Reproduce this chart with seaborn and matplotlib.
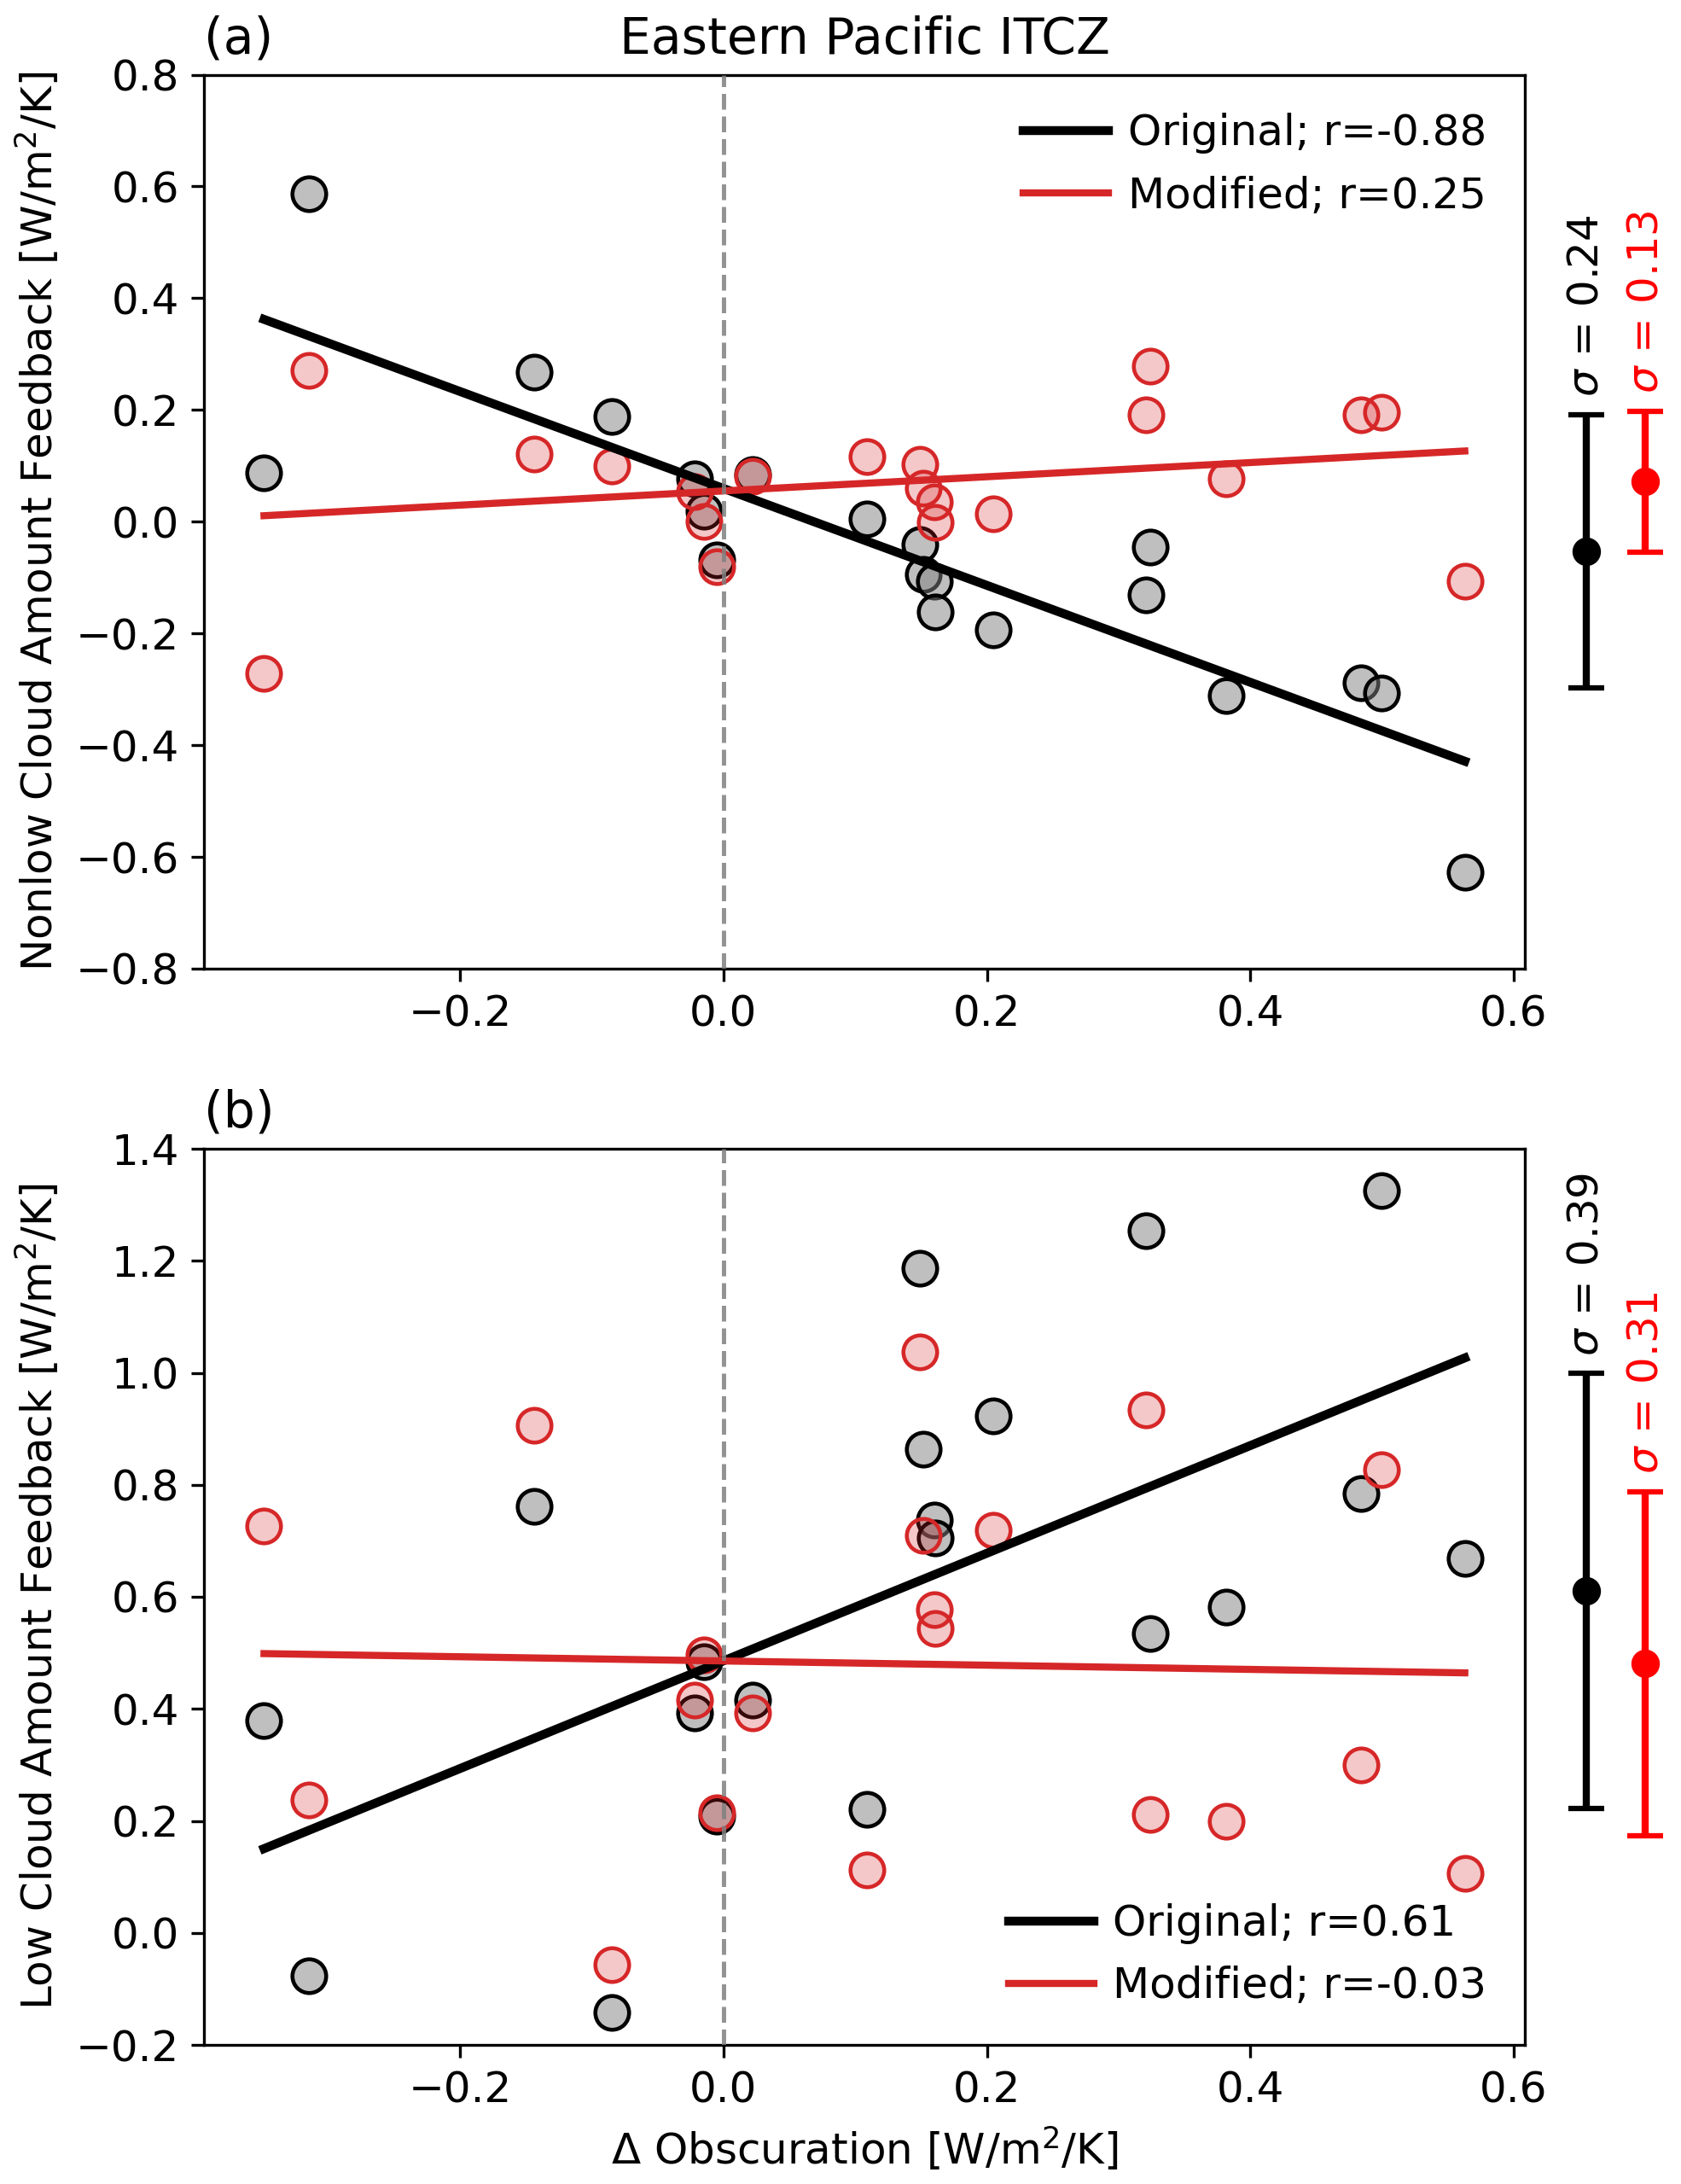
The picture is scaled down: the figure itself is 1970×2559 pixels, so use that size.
import numpy as np
import matplotlib
matplotlib.use("Agg")
import matplotlib.pyplot as plt
import seaborn as sns

# -----------------------------
#  Data
# -----------------------------
delta_obsc = [-0.349, -0.315, -0.144, -0.085, -0.022, -0.015, -0.005, 0.022,
              0.109, 0.149, 0.152, 0.160, 0.161, 0.205, 0.321, 0.324,
              0.382, 0.484, 0.500, 0.563]

nonlow_orig = [0.088, 0.587, 0.267, 0.188, 0.077, 0.018, -0.069, 0.085,
               0.005, -0.041, -0.094, -0.107, -0.162, -0.193, -0.131, -0.045,
               -0.311, -0.289, -0.307, -0.628]
nonlow_mod = [-0.271, 0.271, 0.121, 0.100, 0.054, 0.001, -0.081, 0.082,
              0.116, 0.103, 0.060, 0.036, -0.001, 0.014, 0.191, 0.278,
              0.076, 0.191, 0.196, -0.107]

low_orig = [0.379, -0.077, 0.762, -0.142, 0.393, 0.484, 0.209, 0.415,
            0.221, 1.187, 0.863, 0.737, 0.705, 0.923, 1.253, 0.535,
            0.582, 0.784, 1.326, 0.669]
low_mod = [0.727, 0.2375, 0.907, -0.057, 0.415, 0.497, 0.214, 0.393,
           0.112, 1.037, 0.710, 0.577, 0.544, 0.719, 0.934, 0.211,
           0.200, 0.300, 0.827, 0.107]

panel_tags = ["(a)", "(b)"]
ylabels = ["Nonlow Cloud Amount Feedback [W/m$^2$/K]",
           "Low Cloud Amount Feedback [W/m$^2$/K]"]
yticks_a = np.arange(-0.8, 0.81, 0.2)
yticks_b = np.arange(-0.2, 1.41, 0.2)
xticks = [-0.2, 0.0, 0.2, 0.4, 0.6]

plt.rcParams["font.size"] = 12
plt.rcParams["font.family"] = ["DejaVu Sans"]

W, H = 1970, 2559
fig = plt.figure(figsize=(W / 300, H / 300), dpi=300)
ax_a = fig.add_axes([239 / W, 1 - 1135 / H, (1787 - 239) / W, (1135 - 87.5) / H])
ax_b = fig.add_axes([239 / W, 1 - 2396 / H, (1787 - 239) / W, (2396 - 1346) / H])

x = np.array(delta_obsc)
pad = 0.05 * (x.max() - x.min())


def draw_panel(ax, y_orig, y_mod, legend_loc):
    y_orig = np.array(y_orig)
    y_mod = np.array(y_mod)
    r_o = np.corrcoef(x, y_orig)[0, 1]
    r_m = np.corrcoef(x, y_mod)[0, 1]

    sns.regplot(x=x, y=y_orig, ax=ax, ci=None, color="k", truncate=True,
                scatter_kws=dict(s=90, facecolor=(0.5, 0.5, 0.5, 0.5),
                                 edgecolor="k", linewidths=1.1, alpha=None),
                line_kws=dict(lw=2.5, label=f"Original; r={r_o:.2f}"))
    sns.regplot(x=x, y=y_mod, ax=ax, ci=None, color="tab:red", truncate=True,
                scatter_kws=dict(s=90, facecolor=(0.839, 0.153, 0.157, 0.25),
                                 edgecolor="tab:red", linewidths=1.1, alpha=None),
                line_kws=dict(lw=2.0, label=f"Modified; r={r_m:.2f}"))
    ax.axvline(0, color="gray", ls="--", lw=1.2, alpha=0.85, zorder=5)

    # spread of each ensemble, drawn just outside the right spine
    for xpos, yy, col in [(0.655, y_orig, "k"), (0.70, y_mod, "red")]:
        m, s = yy.mean(), yy.std()
        ax.errorbar(xpos, m, yerr=s, fmt="o", color=col, ms=7, capsize=5,
                    elinewidth=2, capthick=1.5, clip_on=False, zorder=6)
        ax.annotate(f"$\\sigma$ = {s:.2f}", xy=(xpos, m + s), xytext=(0, 5),
                    textcoords="offset points", rotation=90, ha="center",
                    va="bottom", color=col, fontsize=12, annotation_clip=False)

    ax.set_xlim(x.min() - pad, x.max() + pad)
    ax.set_xticks(xticks)
    ax.legend(loc=legend_loc, frameon=False, fontsize=12, handletextpad=0.45)


draw_panel(ax_a, nonlow_orig, nonlow_mod, "upper right")
draw_panel(ax_b, low_orig, low_mod, "lower right")

ax_a.set_ylim(-0.8, 0.8)
ax_a.set_yticks(yticks_a)
ax_b.set_ylim(-0.2, 1.4)
ax_b.set_yticks(yticks_b)

for ax, tag, yl in zip([ax_a, ax_b], panel_tags, ylabels):
    ax.set_title(tag, loc="left", fontsize=14)
    ax.set_ylabel(yl, fontsize=12)
    ax.set_xlabel("")
ax_a.set_title("Eastern Pacific ITCZ", fontsize=14)
ax_b.set_xlabel("$\\Delta$ Obscuration [W/m$^2$/K]", fontsize=12)

fig.savefig("out.png", dpi=300)
